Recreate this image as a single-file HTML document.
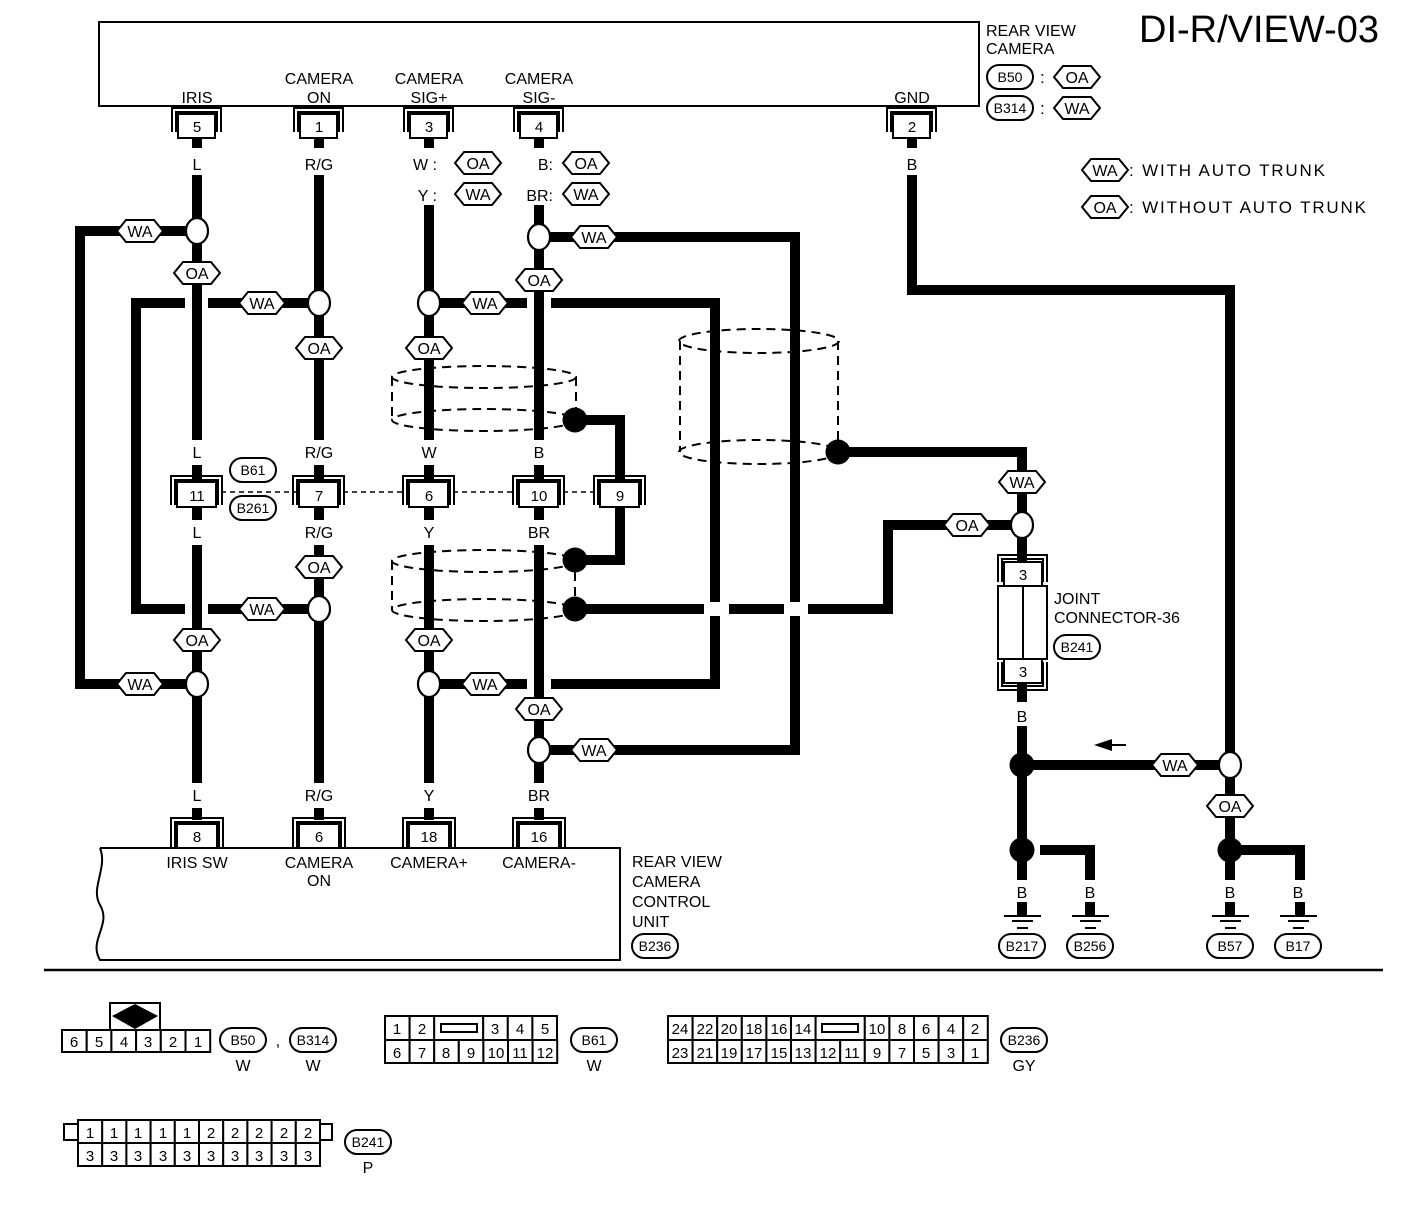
<!DOCTYPE html>
<html><head><meta charset="utf-8"><style>
html,body{margin:0;padding:0;background:#fff}
svg{display:block}
text{font-family:"Liberation Sans",sans-serif;fill:#000}
.w{stroke:#000;stroke-width:10;fill:none}
.t{font-size:16px;text-anchor:middle}
.n{font-size:15px;text-anchor:middle}
.h{fill:#fff;stroke:#000;stroke-width:2}
.c{fill:#fff;stroke:#000;stroke-width:2.2}
.d{fill:none;stroke:#000;stroke-width:2;stroke-dasharray:9,6}
.l{fill:none;stroke:#000;stroke-width:2}
.cell{fill:#fff;stroke:#000;stroke-width:2}
</style></head><body>
<svg width="1408" height="1210" viewBox="0 0 1408 1210" xmlns="http://www.w3.org/2000/svg">
<defs>
<polygon id="hx" points="-23,0 -14,-11 14,-11 23,0 14,11 -14,11" class="h"/>
<rect id="pl" x="-23" y="-12" width="46" height="24" rx="12" class="h"/>
</defs>

<!-- top box -->
<rect x="99" y="22" width="880" height="84" class="l"/>
<text class="t" x="197" y="103">IRIS</text>
<text class="t" x="319" y="84">CAMERA</text><text class="t" x="319" y="103">ON</text>
<text class="t" x="429" y="84">CAMERA</text><text class="t" x="429" y="103">SIG+</text>
<text class="t" x="539" y="84">CAMERA</text><text class="t" x="539" y="103">SIG-</text>
<text class="t" x="912" y="103">GND</text>
<text x="986" y="36" style="font-size:16px">REAR VIEW</text>
<text x="986" y="54" style="font-size:16px">CAMERA</text>
<text x="1139" y="42" style="font-size:38px">DI-R/VIEW-03</text>

<!-- shields dashed -->
<ellipse cx="484" cy="377" rx="92" ry="11" class="d"/>
<path d="M392,377 V420 M576,377 V420" class="d"/>
<ellipse cx="484" cy="420" rx="92" ry="11" class="d"/>
<ellipse cx="484" cy="561" rx="92" ry="11" class="d"/>
<path d="M392,561 V610" class="d"/>
<ellipse cx="484" cy="610" rx="92" ry="11" class="d"/>
<path d="M575,572 V598" class="d"/>
<ellipse cx="759" cy="341" rx="80" ry="12" class="d"/>
<path d="M680,341 V452 M838,341 V452" class="d"/>
<ellipse cx="759" cy="452" rx="80" ry="12" class="d"/>

<!-- loop wires -->
<path class="w" d="M197,231 H80 V684 H197"/>
<path class="w" d="M319,303 H136 V609 H319"/>
<path class="w" d="M429,303 H715 V684 H429"/>
<path class="w" d="M539,237 H795 V750 H539"/>
<path class="w" d="M585,420 H620 V560 H585"/>
<path class="w" d="M585,609 H888 V525 H1022"/>
<path class="w" d="M848,452 H1022 V916"/>
<path class="w" d="M1022,765 H1230"/>
<path class="w" d="M1040,850 H1090 V916"/>
<path class="w" d="M912,138 V290 H1230 V916"/>
<path class="w" d="M1240,850 H1300 V916"/>
<g fill="#fff">
<rect x="185" y="296" width="23" height="14"/>
<rect x="185" y="602" width="23" height="14"/>
<rect x="527" y="296" width="24" height="14"/>
<rect x="527" y="677" width="24" height="14"/>
<rect x="704" y="602" width="25" height="14"/>
<rect x="784" y="602" width="24" height="14"/>
</g>
<path class="w" d="M197,138 V820 M319,138 V820 M429,138 V820 M539,138 V820"/>
<g fill="#fff">
<rect x="185" y="148" width="24" height="27"/>
<rect x="300" y="148" width="40" height="27"/>
<rect x="415" y="148" width="28" height="57"/>
<rect x="520" y="148" width="34" height="57"/>
<rect x="900" y="148" width="24" height="27"/>
<rect x="185" y="440" width="24" height="25"/><rect x="300" y="440" width="40" height="25"/><rect x="415" y="440" width="28" height="25"/><rect x="525" y="440" width="28" height="25"/>
<rect x="185" y="520" width="24" height="25"/><rect x="300" y="520" width="40" height="25"/><rect x="415" y="520" width="28" height="25"/><rect x="522" y="520" width="34" height="25"/>
<rect x="185" y="783" width="24" height="25"/><rect x="300" y="783" width="40" height="25"/><rect x="415" y="783" width="28" height="25"/><rect x="522" y="783" width="34" height="25"/>
<rect x="1010" y="702" width="24" height="24"/>
<rect x="1010" y="880" width="24" height="22"/><rect x="1078" y="880" width="24" height="22"/>
<rect x="1218" y="880" width="24" height="22"/><rect x="1288" y="880" width="24" height="22"/>
</g>

<g class="t">
<text x="197" y="170">L</text><text x="319" y="170">R/G</text><text x="912" y="170">B</text>
<text x="437" y="170" text-anchor="end">W :</text><text x="437" y="201" text-anchor="end">Y :</text>
<text x="553" y="170" text-anchor="end">B:</text><text x="553" y="201" text-anchor="end">BR:</text>
<text x="197" y="458">L</text><text x="319" y="458">R/G</text><text x="429" y="458">W</text><text x="539" y="458">B</text>
<text x="197" y="538">L</text><text x="319" y="538">R/G</text><text x="429" y="538">Y</text><text x="539" y="538">BR</text>
<text x="197" y="801">L</text><text x="319" y="801">R/G</text><text x="429" y="801">Y</text><text x="539" y="801">BR</text>
<text x="1022" y="722">B</text>
<text x="1022" y="898">B</text><text x="1090" y="898">B</text><text x="1230" y="898">B</text><text x="1298" y="898">B</text>
</g>

<g>
<path class="l" d="M172,132 V108 H221 V132 M176,132 V112 H217 V132"/><rect x="178" y="114" width="37" height="24" class="cell"/>
<path class="l" d="M294,132 V108 H343 V132 M298,132 V112 H339 V132"/><rect x="300" y="114" width="37" height="24" class="cell"/>
<path class="l" d="M404,132 V108 H453 V132 M408,132 V112 H449 V132"/><rect x="410" y="114" width="37" height="24" class="cell"/>
<path class="l" d="M514,132 V108 H563 V132 M518,132 V112 H559 V132"/><rect x="520" y="114" width="37" height="24" class="cell"/>
<path class="l" d="M887,132 V108 H936 V132 M891,132 V112 H932 V132"/><rect x="893" y="114" width="37" height="24" class="cell"/>
</g>
<g class="n"><text x="197" y="132">5</text><text x="319" y="132">1</text><text x="429" y="132">3</text><text x="539" y="132">4</text><text x="912" y="132">2</text></g>

<path d="M221,492 H296 M343,492 H406 M453,492 H516 M563,492 H597" style="stroke:#000;stroke-width:1.5;stroke-dasharray:5,4;fill:none"/>
<g>
<path class="l" d="M171,505 V476 H222 V505 M175,505 V480 H218 V505"/><rect x="177" y="482" width="39" height="25" class="cell"/>
<path class="l" d="M293,505 V476 H344 V505 M297,505 V480 H340 V505"/><rect x="299" y="482" width="39" height="25" class="cell"/>
<path class="l" d="M403,505 V476 H454 V505 M407,505 V480 H450 V505"/><rect x="409" y="482" width="39" height="25" class="cell"/>
<path class="l" d="M513,505 V476 H564 V505 M517,505 V480 H560 V505"/><rect x="519" y="482" width="39" height="25" class="cell"/>
<path class="l" d="M594,505 V476 H645 V505 M598,505 V480 H641 V505"/><rect x="600" y="482" width="39" height="25" class="cell"/>
</g>
<g class="n"><text x="197" y="501">11</text><text x="319" y="501">7</text><text x="429" y="501">6</text><text x="539" y="501">10</text><text x="620" y="501">9</text></g>
<use href="#pl" x="253" y="470"/><text x="253" y="475" style="font-size:14px;text-anchor:middle">B61</text>
<use href="#pl" x="253" y="508"/><text x="253" y="513" style="font-size:14px;text-anchor:middle">B261</text>

<path class="l" d="M100,848 H620 V960 H100 C88,940 112,925 100,905 C90,888 108,868 100,848"/>
<g>
<path class="l" d="M171,848 V818 H223 V848 M175,848 V822 H219 V848"/><rect x="177" y="824" width="40" height="24" class="cell"/>
<path class="l" d="M293,848 V818 H345 V848 M297,848 V822 H341 V848"/><rect x="299" y="824" width="40" height="24" class="cell"/>
<path class="l" d="M403,848 V818 H455 V848 M407,848 V822 H451 V848"/><rect x="409" y="824" width="40" height="24" class="cell"/>
<path class="l" d="M513,848 V818 H565 V848 M517,848 V822 H561 V848"/><rect x="519" y="824" width="40" height="24" class="cell"/>
</g>
<g class="n"><text x="197" y="842">8</text><text x="319" y="842">6</text><text x="429" y="842">18</text><text x="539" y="842">16</text></g>
<g class="t">
<text x="197" y="868">IRIS SW</text><text x="319" y="868">CAMERA</text><text x="319" y="886">ON</text>
<text x="429" y="868">CAMERA+</text><text x="539" y="868">CAMERA-</text>
</g>
<g style="font-size:16px"><text x="632" y="867">REAR VIEW</text><text x="632" y="887">CAMERA</text><text x="632" y="907">CONTROL</text><text x="632" y="927">UNIT</text></g>
<use href="#pl" x="655" y="946"/><text x="655" y="951" style="font-size:14px;text-anchor:middle">B236</text>

<path class="l" d="M998,582 V555 H1047 V582 M1002,582 V559 H1043 V582"/><rect x="1004" y="562" width="38" height="24" class="cell"/>
<rect x="998" y="586" width="49" height="73" class="cell"/><path class="l" d="M1023,586 V659"/>
<path class="l" d="M998,662 V690 H1047 V662 M1002,662 V686 H1043 V662"/><rect x="1004" y="659" width="38" height="24" class="cell"/>
<text class="n" x="1023" y="580">3</text><text class="n" x="1023" y="677">3</text>
<g style="font-size:16px"><text x="1054" y="604">JOINT</text><text x="1054" y="623">CONNECTOR-36</text></g>
<use href="#pl" x="1077" y="647"/><text x="1077" y="652" style="font-size:14px;text-anchor:middle">B241</text>

<path d="M1108,745 H1126" class="l"/><polygon points="1094,745 1112,739 1112,751"/>

<g class="l">
<path d="M1004,916 H1041 M1012,921 H1033 M1017,928 H1028"/>
<path d="M1072,916 H1109 M1080,921 H1101 M1085,928 H1096"/>
<path d="M1212,916 H1249 M1220,921 H1241 M1225,928 H1236"/>
<path d="M1280,916 H1317 M1288,921 H1309 M1293,928 H1304"/>
</g>
<g style="font-size:14px;text-anchor:middle">
<use href="#pl" x="1022" y="946"/><text x="1022" y="951">B217</text>
<use href="#pl" x="1090" y="946"/><text x="1090" y="951">B256</text>
<use href="#pl" x="1230" y="946"/><text x="1230" y="951">B57</text>
<use href="#pl" x="1298" y="946"/><text x="1298" y="951">B17</text>
</g>

<g class="c">
<ellipse cx="197" cy="231" rx="11" ry="13"/><ellipse cx="319" cy="303" rx="11" ry="13"/>
<ellipse cx="429" cy="303" rx="11" ry="13"/><ellipse cx="539" cy="237" rx="11" ry="13"/>
<ellipse cx="319" cy="609" rx="11" ry="13"/><ellipse cx="197" cy="684" rx="11" ry="13"/>
<ellipse cx="429" cy="684" rx="11" ry="13"/><ellipse cx="539" cy="750" rx="11" ry="13"/>
<ellipse cx="1022" cy="525" rx="11" ry="13"/><ellipse cx="1230" cy="765" rx="11" ry="13"/>
</g>
<g>
<circle cx="575" cy="420" r="12.5"/><circle cx="575" cy="560" r="12.5"/><circle cx="575" cy="609" r="12.5"/>
<circle cx="838" cy="452" r="12.5"/><circle cx="1022" cy="765" r="12.5"/><circle cx="1022" cy="850" r="12.5"/><circle cx="1230" cy="850" r="12.5"/>
</g>

<g style="font-size:16px;text-anchor:middle">
<use href="#hx" x="140" y="231"/><text x="140" y="237">WA</text>
<use href="#hx" x="262" y="303"/><text x="262" y="309">WA</text>
<use href="#hx" x="485" y="303"/><text x="485" y="309">WA</text>
<use href="#hx" x="594" y="237"/><text x="594" y="243">WA</text>
<use href="#hx" x="262" y="609"/><text x="262" y="615">WA</text>
<use href="#hx" x="485" y="684"/><text x="485" y="690">WA</text>
<use href="#hx" x="140" y="684"/><text x="140" y="690">WA</text>
<use href="#hx" x="594" y="750"/><text x="594" y="756">WA</text>
<use href="#hx" x="1022" y="482"/><text x="1022" y="488">WA</text>
<use href="#hx" x="1175" y="765"/><text x="1175" y="771">WA</text>
<use href="#hx" x="197" y="273"/><text x="197" y="279">OA</text>
<use href="#hx" x="319" y="348"/><text x="319" y="354">OA</text>
<use href="#hx" x="429" y="348"/><text x="429" y="354">OA</text>
<use href="#hx" x="539" y="280"/><text x="539" y="286">OA</text>
<use href="#hx" x="319" y="567"/><text x="319" y="573">OA</text>
<use href="#hx" x="197" y="640"/><text x="197" y="646">OA</text>
<use href="#hx" x="429" y="640"/><text x="429" y="646">OA</text>
<use href="#hx" x="539" y="709"/><text x="539" y="715">OA</text>
<use href="#hx" x="967" y="525"/><text x="967" y="531">OA</text>
<use href="#hx" x="1230" y="806"/><text x="1230" y="812">OA</text>
<use href="#hx" x="478" y="163"/><text x="478" y="169">OA</text>
<use href="#hx" x="478" y="194"/><text x="478" y="200">WA</text>
<use href="#hx" x="586" y="163"/><text x="586" y="169">OA</text>
<use href="#hx" x="586" y="194"/><text x="586" y="200">WA</text>
<use href="#hx" x="1077" y="77"/><text x="1077" y="83">OA</text>
<use href="#hx" x="1077" y="108"/><text x="1077" y="114">WA</text>
<use href="#hx" x="1105" y="170"/><text x="1105" y="176">WA</text>
<use href="#hx" x="1105" y="207"/><text x="1105" y="213">OA</text>
</g>
<g style="font-size:14px;text-anchor:middle">
<use href="#pl" x="1010" y="77"/><text x="1010" y="82">B50</text>
<use href="#pl" x="1010" y="108"/><text x="1010" y="113">B314</text>
</g>
<g style="font-size:17px"><text x="1040" y="83">:</text><text x="1040" y="114">:</text>
<text x="1129" y="176" textLength="196">: WITH AUTO TRUNK</text><text x="1129" y="213" textLength="237">: WITHOUT AUTO TRUNK</text></g>

<path d="M44,970 H1383" style="stroke:#000;stroke-width:2.5"/>

<rect x="110" y="1003" width="50" height="27" class="cell"/>
<polygon points="112,1016 135,1004 158,1016 135,1029"/>
<g class="cell">
<rect x="62" y="1030" width="24.7" height="22"/><rect x="86.7" y="1030" width="24.7" height="22"/><rect x="111.4" y="1030" width="24.7" height="22"/>
<rect x="136.1" y="1030" width="24.7" height="22"/><rect x="160.8" y="1030" width="24.7" height="22"/><rect x="185.5" y="1030" width="24.7" height="22"/>
</g>
<g class="n"><text x="74" y="1047">6</text><text x="99" y="1047">5</text><text x="124" y="1047">4</text><text x="148" y="1047">3</text><text x="173" y="1047">2</text><text x="198" y="1047">1</text></g>
<g style="font-size:14px;text-anchor:middle">
<use href="#pl" x="243" y="1040"/><text x="243" y="1045">B50</text>
<use href="#pl" x="313" y="1040"/><text x="313" y="1045">B314</text>
</g>
<g class="t"><text x="243" y="1071">W</text><text x="313" y="1071">W</text><text x="278" y="1046">,</text></g>

<g class="cell">
<rect x="385" y="1016" width="24.6" height="24"/><rect x="409.6" y="1016" width="24.6" height="24"/>
<rect x="434.2" y="1016" width="49" height="24"/>
<rect x="483.2" y="1016" width="24.6" height="24"/><rect x="507.8" y="1016" width="24.6" height="24"/><rect x="532.4" y="1016" width="24.6" height="24"/>
<rect x="385" y="1040" width="24.6" height="23"/><rect x="409.6" y="1040" width="24.6" height="23"/><rect x="434.2" y="1040" width="24.6" height="23"/>
<rect x="458.8" y="1040" width="24.6" height="23"/><rect x="483.4" y="1040" width="24.6" height="23"/><rect x="508" y="1040" width="24.6" height="23"/><rect x="532.6" y="1040" width="24.6" height="23"/>
</g>
<rect x="441" y="1024" width="36" height="8" class="l"/>
<g class="n"><text x="397" y="1034">1</text><text x="422" y="1034">2</text><text x="495" y="1034">3</text><text x="520" y="1034">4</text><text x="545" y="1034">5</text>
<text x="397" y="1058">6</text><text x="422" y="1058">7</text><text x="446" y="1058">8</text><text x="471" y="1058">9</text><text x="496" y="1058">10</text><text x="520" y="1058">11</text><text x="545" y="1058">12</text></g>
<use href="#pl" x="594" y="1040"/><text x="594" y="1045" style="font-size:14px;text-anchor:middle">B61</text>
<text class="t" x="594" y="1071">W</text>

<g class="cell">
<rect x="668" y="1016" width="24.6" height="24"/><rect x="692.6" y="1016" width="24.6" height="24"/><rect x="717.2" y="1016" width="24.6" height="24"/>
<rect x="741.8" y="1016" width="24.6" height="24"/><rect x="766.4" y="1016" width="24.6" height="24"/><rect x="791" y="1016" width="24.6" height="24"/>
<rect x="815.6" y="1016" width="49.2" height="24"/>
<rect x="864.8" y="1016" width="24.6" height="24"/><rect x="889.4" y="1016" width="24.6" height="24"/><rect x="914" y="1016" width="24.6" height="24"/>
<rect x="938.6" y="1016" width="24.6" height="24"/><rect x="963.2" y="1016" width="24.6" height="24"/>
<rect x="668" y="1040" width="24.6" height="23"/><rect x="692.6" y="1040" width="24.6" height="23"/><rect x="717.2" y="1040" width="24.6" height="23"/>
<rect x="741.8" y="1040" width="24.6" height="23"/><rect x="766.4" y="1040" width="24.6" height="23"/><rect x="791" y="1040" width="24.6" height="23"/>
<rect x="815.6" y="1040" width="24.6" height="23"/><rect x="840.2" y="1040" width="24.6" height="23"/><rect x="864.8" y="1040" width="24.6" height="23"/>
<rect x="889.4" y="1040" width="24.6" height="23"/><rect x="914" y="1040" width="24.6" height="23"/><rect x="938.6" y="1040" width="24.6" height="23"/><rect x="963.2" y="1040" width="24.6" height="23"/>
</g>
<rect x="822" y="1024" width="36" height="8" class="l"/>
<g class="n">
<text x="680" y="1034">24</text><text x="705" y="1034">22</text><text x="729" y="1034">20</text><text x="754" y="1034">18</text><text x="779" y="1034">16</text><text x="803" y="1034">14</text>
<text x="877" y="1034">10</text><text x="902" y="1034">8</text><text x="926" y="1034">6</text><text x="951" y="1034">4</text><text x="975" y="1034">2</text>
<text x="680" y="1058">23</text><text x="705" y="1058">21</text><text x="729" y="1058">19</text><text x="754" y="1058">17</text><text x="779" y="1058">15</text><text x="803" y="1058">13</text>
<text x="828" y="1058">12</text><text x="852" y="1058">11</text><text x="877" y="1058">9</text><text x="902" y="1058">7</text><text x="926" y="1058">5</text><text x="951" y="1058">3</text><text x="975" y="1058">1</text>
</g>
<use href="#pl" x="1024" y="1040"/><text x="1024" y="1045" style="font-size:14px;text-anchor:middle">B236</text>
<text class="t" x="1024" y="1071">GY</text>

<rect x="64" y="1124" width="14" height="16" class="cell"/><rect x="320" y="1124" width="12" height="16" class="cell"/>
<g class="cell">
<rect x="78" y="1120" width="24.2" height="23"/><rect x="102.2" y="1120" width="24.2" height="23"/><rect x="126.4" y="1120" width="24.2" height="23"/><rect x="150.6" y="1120" width="24.2" height="23"/><rect x="174.8" y="1120" width="24.2" height="23"/>
<rect x="199" y="1120" width="24.2" height="23"/><rect x="223.2" y="1120" width="24.2" height="23"/><rect x="247.4" y="1120" width="24.2" height="23"/><rect x="271.6" y="1120" width="24.2" height="23"/><rect x="295.8" y="1120" width="24.2" height="23"/>
<rect x="78" y="1143" width="24.2" height="23"/><rect x="102.2" y="1143" width="24.2" height="23"/><rect x="126.4" y="1143" width="24.2" height="23"/><rect x="150.6" y="1143" width="24.2" height="23"/><rect x="174.8" y="1143" width="24.2" height="23"/>
<rect x="199" y="1143" width="24.2" height="23"/><rect x="223.2" y="1143" width="24.2" height="23"/><rect x="247.4" y="1143" width="24.2" height="23"/><rect x="271.6" y="1143" width="24.2" height="23"/><rect x="295.8" y="1143" width="24.2" height="23"/>
</g>
<g class="n">
<text x="90" y="1138">1</text><text x="114" y="1138">1</text><text x="138" y="1138">1</text><text x="163" y="1138">1</text><text x="187" y="1138">1</text>
<text x="211" y="1138">2</text><text x="235" y="1138">2</text><text x="259" y="1138">2</text><text x="284" y="1138">2</text><text x="308" y="1138">2</text>
<text x="90" y="1161">3</text><text x="114" y="1161">3</text><text x="138" y="1161">3</text><text x="163" y="1161">3</text><text x="187" y="1161">3</text>
<text x="211" y="1161">3</text><text x="235" y="1161">3</text><text x="259" y="1161">3</text><text x="284" y="1161">3</text><text x="308" y="1161">3</text>
</g>
<use href="#pl" x="368" y="1142"/><text x="368" y="1147" style="font-size:14px;text-anchor:middle">B241</text>
<text class="t" x="368" y="1173">P</text>
</svg>
</body></html>
